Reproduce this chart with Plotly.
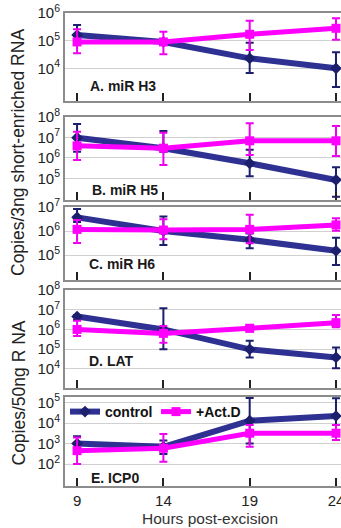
import math
import plotly.graph_objects as go

# ---------------- data ----------------
hours = [9, 14, 19, 24]
panel_names = ["A. miR H3", "B. miR H5", "C. miR H6", "D. LAT", "E. ICP0"]

# Panel A: miR H3
ctrl_A = [1.6e5, 9.0e4, 2.3e4, 1.0e4]
ctrl_A_hi = [3.7e5, 9.0e4, 8.5e4, 3.8e4]
ctrl_A_lo = [8.0e4, 9.0e4, 6.8e3, 2.1e3]
actd_A = [9.0e4, 9.0e4, 1.7e5, 2.8e5]
actd_A_hi = [2.6e5, 2.1e5, 5.2e5, 6.5e5]
actd_A_lo = [3.5e4, 3.2e4, 4.6e4, 1.07e5]

# Panel B: miR H5
ctrl_B = [9.8e6, 3.0e6, 5.5e5, 8.5e4]
ctrl_B_hi = [4.6e7, 2.1e7, 2.5e6, 3.5e5]
ctrl_B_lo = [2.0e6, 2.0e6, 1.3e5, 1.3e4]
actd_B = [3.9e6, 3.0e6, 6.9e6, 6.9e6]
actd_B_hi = [1.9e7, 1.7e7, 4.9e7, 3.6e7]
actd_B_lo = [7.9e5, 4.6e5, 1.4e6, 1.26e6]

# Panel C: miR H6
ctrl_C = [3.7e6, 1.0e6, 4.3e5, 1.5e5]
ctrl_C_hi = [8.3e6, 4.0e6, 7.9e5, 5.2e5]
ctrl_C_lo = [2.4e6, 2.6e5, 1.9e5, 3.8e4]
actd_C = [1.17e6, 1.1e6, 1.17e6, 1.8e6]
actd_C_hi = [2.9e6, 3.1e6, 4.7e6, 3.4e6]
actd_C_lo = [3.2e5, 4.5e5, 3.1e5, 1.02e6]

# Panel D: LAT
ctrl_D = [4.5e6, 1.0e6, 9.8e4, 3.8e4]
ctrl_D_hi = [5.4e6, 1.17e7, 2.7e5, 1.23e5]
ctrl_D_lo = [3.0e6, 9.8e4, 3.8e4, 1.07e4]
actd_D = [1.0e6, 6.3e5, 1.15e6, 2.2e6]
actd_D_hi = [2.75e6, 1.48e6, 1.48e6, 5.4e6]
actd_D_lo = [4.6e5, 2.1e5, 7.9e5, 1.3e6]

# Panel E: ICP0
ctrl_E = [1.0e3, 6.9e2, 1.3e4, 2.2e4]
ctrl_E_hi = [2.3e3, 1.4e3, 1.66e5, 1.6e5]
ctrl_E_lo = [4.8e2, 3.1e2, 1.0e3, 8.0e3]
actd_E = [4.5e2, 5.9e2, 3.2e3, 3.2e3]
actd_E_hi = [2.0e3, 2.9e3, 8.0e3, 8.0e3]
actd_E_lo = [1.0e2, 1.3e2, 6.9e2, 1.5e3]

# y tick values per panel
ticks_A = [1e4, 1e5, 1e6]
ticks_B = [1e5, 1e6, 1e7, 1e8]
ticks_C = [1e5, 1e6, 1e7]
ticks_D = [1e4, 1e5, 1e6, 1e7, 1e8]
ticks_E = [1e2, 1e3, 1e4, 1e5]

# ---------------- styling ----------------
W, H = 341, 528
ML = 65
PW = W - ML
FONT = "Arial, Liberation Sans, sans-serif"
NAVY = "#2e3192"
NAVY_ERR = "#1b1f6e"
MAG = "#ff00ff"
MAG_ERR = "#f000f0"
FRAME = "#8c8c8c"
GRID = "#d0d0d0"

panels = [
    (ctrl_A, ctrl_A_hi, ctrl_A_lo, actd_A, actd_A_hi, actd_A_lo, ticks_A, [2.82, 6.0], (13, 101)),
    (ctrl_B, ctrl_B_hi, ctrl_B_lo, actd_B, actd_B_hi, actd_B_lo, ticks_B, [3.95, 8.0], (117, 200)),
    (ctrl_C, ctrl_C_hi, ctrl_C_lo, actd_C, actd_C_hi, actd_C_lo, ticks_C, [3.96, 7.0], (207, 280)),
    (ctrl_D, ctrl_D_hi, ctrl_D_lo, actd_D, actd_D_hi, actd_D_lo, ticks_D, [3.03, 8.0], (290, 388)),
    (ctrl_E, ctrl_E_hi, ctrl_E_lo, actd_E, actd_E_hi, actd_E_lo, ticks_E, [0.93, 5.27], (397, 486)),
]
label_pos = [(88, 86), (90, 190), (87, 264), (87, 361), (89, 478)]


def py(p):
    return 1 - p / H


def px(p):
    return (p - ML) / PW


def pow_label(v):
    return f"10<sup>{int(round(math.log10(v)))}</sup>"


fig = go.Figure()
layout = {}
annotations = []

for i, (c, chi, clo, a, ahi, alo, tv, yr, (top, bot)) in enumerate(panels):
    n = i + 1
    xa = "x" if n == 1 else f"x{n}"
    ya = "y" if n == 1 else f"y{n}"
    first = (n == 1)
    fig.add_trace(go.Scatter(
        x=hours, y=c, xaxis=xa, yaxis=ya, name="control", legendgroup="control",
        showlegend=first, mode="lines+markers",
        line=dict(color=NAVY, width=6),
        marker=dict(symbol="diamond", size=9, color=NAVY_ERR),
        error_y=dict(type="data", symmetric=False,
                     array=[h - v for h, v in zip(chi, c)],
                     arrayminus=[v - l for v, l in zip(c, clo)],
                     color=NAVY_ERR, thickness=2, width=4),
    ))
    fig.add_trace(go.Scatter(
        x=hours, y=a, xaxis=xa, yaxis=ya, name="+Act.D", legendgroup="actd",
        showlegend=first, mode="lines+markers",
        line=dict(color=MAG, width=5),
        marker=dict(symbol="square", size=9, color=MAG),
        error_y=dict(type="data", symmetric=False,
                     array=[h - v for h, v in zip(ahi, a)],
                     arrayminus=[v - l for v, l in zip(a, alo)],
                     color=MAG_ERR, thickness=2, width=4),
    ))
    xkey = "xaxis" if n == 1 else f"xaxis{n}"
    ykey = "yaxis" if n == 1 else f"yaxis{n}"
    layout[xkey] = dict(
        domain=[0, 1], anchor=ya, range=[8.3, 24.29], tickvals=hours,
        ticks="inside", ticklen=8, tickwidth=1.5, tickcolor="#222",
        showticklabels=(n == 5), showline=True, linecolor=FRAME, linewidth=2,
        mirror=True, showgrid=False, zeroline=False, automargin=False,
        ticklabeloverflow="allow",
        tickfont=dict(family=FONT, size=15, color="#222"),
    )
    layout[ykey] = dict(
        domain=[py(bot), py(top)], anchor=xa, type="log", range=yr,
        tickvals=tv, ticktext=[pow_label(v) for v in tv],
        showline=True, linecolor=FRAME, automargin=False,
        linewidth=2, mirror=False, showgrid=True, gridcolor=GRID, gridwidth=1,
        ticks="", zeroline=False, ticklabelstandoff=0,
        tickfont=dict(family=FONT, size=15, color="#222"),
    )
    lx, ly = label_pos[i]
    annotations.append(dict(
        text=f"<b>{panel_names[i]}</b>", xref="paper", yref="paper",
        x=px(lx), y=py(ly), xanchor="left", yanchor="middle", showarrow=False,
        font=dict(family=FONT, size=14, color="#1a1a1a"),
    ))

annotations.append(dict(
    text="Hours post-excision", xref="paper", yref="paper",
    x=px(210), y=py(518), xanchor="center", yanchor="middle", showarrow=False,
    font=dict(family=FONT, size=15.5, color="#333"),
))
annotations.append(dict(
    text="Copies/3ng short-enriched RNA", xref="paper", yref="paper",
    x=px(18), y=py(153), xanchor="center", yanchor="middle", textangle=-90,
    showarrow=False, font=dict(family=FONT, size=17.5, color="#222"),
))
annotations.append(dict(
    text="Copies/50ng R NA", xref="paper", yref="paper",
    x=px(18), y=py(393.5), xanchor="center", yanchor="middle", textangle=-90,
    showarrow=False, font=dict(family=FONT, size=17.5, color="#222"),
))

fig.update_layout(
    width=W, height=H,
    margin=dict(l=ML, r=0, t=0, b=0),
    paper_bgcolor="white", plot_bgcolor="white",
    showlegend=True,
    legend=dict(orientation="h", x=0.0, xanchor="left", y=py(412), yanchor="middle",
                bgcolor="rgba(0,0,0,0)",
                font=dict(family=FONT, size=14, color="#111", weight="bold"),
                itemwidth=30, tracegroupgap=0, entrywidth=46),
    annotations=annotations,
    **layout,
)

fig.write_html("out.html", config={"displayModeBar": False},
               post_script="document.body.style.margin='0';document.body.style.padding='0';")
